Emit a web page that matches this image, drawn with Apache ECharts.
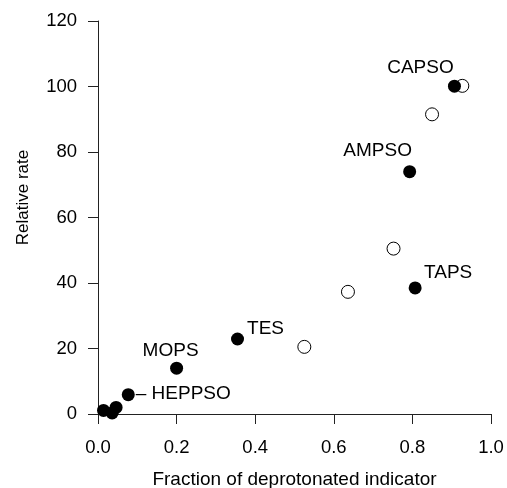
<!DOCTYPE html>
<html>
<head>
<meta charset="utf-8">
<script src="https://cdn.jsdelivr.net/npm/echarts@6/dist/echarts.min.js"></script>
<style>
  html, body { margin: 0; padding: 0; background: #fff; }
  #chart { width: 507px; height: 488px; }
</style>
</head>
<body>
<div id="chart"></div>
<script>
// buffers (filled circles)
var bufferNames = ["", "", "", "HEPPSO", "MOPS", "TES", "TAPS", "AMPSO", "CAPSO"];
var bufferX = [0.014, 0.036, 0.046, 0.077, 0.20, 0.355, 0.807, 0.793, 0.907];
var bufferY = [1.1, 0.3, 2.0, 5.9, 14.0, 22.9, 38.5, 74.0, 100.1];

// open circles
var openX = [0.525, 0.636, 0.752, 0.85, 0.927];
var openY = [20.5, 37.3, 50.5, 91.5, 100.2];

var xTicks = ["0.0", "0.2", "0.4", "0.6", "0.8", "1.0"];
var xTitle = "Fraction of deprotonated indicator";
var yTitle = "Relative rate";

var fontFamily = "'Liberation Sans', Arial, Helvetica, sans-serif";

// label placement relative to the point
var labelOffsets = {
  HEPPSO: [-4, -1],
  MOPS: [-6, -17],
  TES: [28, -10],
  TAPS: [33, -15],
  AMPSO: [-32, -21],
  CAPSO: [-34, -18]
};

var filledData = bufferX.map(function (x, i) {
  var name = bufferNames[i];
  var item = { value: [x, bufferY[i]], name: name };
  if (name) {
    var off = labelOffsets[name];
    item.label = {
      show: true,
      position: name == "HEPPSO" ? "right" : "inside",
      offset: off,
      formatter: name == "HEPPSO" ? "– " + name : name
    };
  }
  return item;
});

var openData = openX.map(function (x, i) {
  return [x, openY[i]];
});

var myChart = echarts.init(document.getElementById("chart"));

var axisColor = "#222";

var option = {
  backgroundColor: "#fff",
  animation: false,
  grid: {
    left: 98,
    right: 16,
    top: 21,
    bottom: 74,
    containLabel: false,
    outerBoundsMode: "none"
  },
  xAxis: {
    type: "value",
    min: 0,
    max: 1,
    interval: 0.2,
    name: xTitle,
    nameLocation: "middle",
    nameGap: 56,
    nameTextStyle: { fontSize: 19, color: "#000", fontFamily: fontFamily },
    axisLine: { show: true, lineStyle: { color: axisColor, width: 1 } },
    axisTick: { show: true, inside: false, length: 10, lineStyle: { color: axisColor } },
    axisLabel: {
      margin: 24,
      fontSize: 18.5,
      color: "#000",
      fontFamily: fontFamily,
      formatter: function (v) {
        return xTicks[Math.round(v / 0.2)];
      }
    },
    splitLine: { show: false }
  },
  yAxis: {
    type: "value",
    min: 0,
    max: 120,
    interval: 20,
    name: yTitle,
    nameLocation: "middle",
    nameGap: 66,
    nameTextStyle: {
      fontSize: 17,
      color: "#000",
      fontFamily: fontFamily,
      padding: [0, 0, 0, 40]
    },
    axisLine: { show: true, lineStyle: { color: axisColor, width: 1 } },
    axisTick: { show: true, inside: false, length: 10, lineStyle: { color: axisColor } },
    axisLabel: {
      margin: 21,
      fontSize: 18.5,
      color: "#000",
      fontFamily: fontFamily
    },
    splitLine: { show: false }
  },
  series: [
    {
      name: "open",
      type: "scatter",
      symbol: "circle",
      symbolSize: 13,
      itemStyle: { color: "#fff", borderColor: "#000", borderWidth: 1, opacity: 1 },
      data: openData,
      z: 2
    },
    {
      name: "buffers",
      type: "scatter",
      symbol: "circle",
      symbolSize: 13,
      itemStyle: { color: "#000", opacity: 1 },
      label: {
        fontSize: 19,
        color: "#000",
        fontFamily: fontFamily
      },
      data: filledData,
      z: 3
    }
  ]
};

myChart.setOption(option);
window.addEventListener("resize", function () {
  myChart.resize();
});
</script>
</body>
</html>
